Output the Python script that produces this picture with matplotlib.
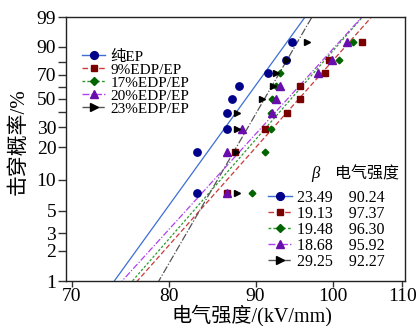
import numpy as np
import matplotlib
matplotlib.use("Agg")
import matplotlib.pyplot as plt
from matplotlib.lines import Line2D

plt.rcParams['font.family'] = ['Liberation Serif', 'Noto Sans CJK SC']
plt.rcParams['mathtext.fontset'] = 'stix'

# ---------------- data ----------------
series_names = ["纯EP", "9%EDP/EP", "17%EDP/EP", "20%EDP/EP", "23%EDP/EP"]
e_pure = [83.1, 83.1, 86.6, 86.6, 87.1, 88.0, 91.5, 93.8, 94.6]
e_9 = [86.5, 87.5, 91.2, 94.0, 95.6, 95.6, 99.0, 99.5, 104.1]
e_17 = [89.6, 91.2, 91.9, 91.9, 92.0, 92.5, 93.0, 100.9, 102.8]
e_20 = [86.6, 86.6, 88.3, 92.1, 92.6, 93.0, 98.0, 99.9, 102.0]
e_23 = [87.7, 87.6, 87.7, 87.7, 90.8, 92.2, 92.6, 93.9, 96.6]
beta = [23.49, 19.13, 19.48, 18.68, 29.25]
alpha = [90.24, 97.37, 96.30, 95.92, 92.27]
x_ticks = [70, 80, 90, 100, 110]
y_ticks = [1, 2, 3, 5, 10, 20, 30, 40, 50, 60, 70, 80, 90, 99]
y_tick_labels = ["1", "2", "3", "5", "10", "20", "30", "", "50", "", "70", "", "90", "99"]

n = len(e_pure)
rank_pct = [100.0 * (i - 0.3) / (n + 0.4) for i in range(1, n + 1)]

marker_colors = ["#00008b", "#7a0000", "#006400", "#6a0dad", "#000000"]
line_colors = ["#3b6fd6", "#cc3a3a", "#2a9a2a", "#b040f0", "#555555"]
markers = ["o", "s", "D", "^", ">"]
msizes = [5.3, 4.5, 3.4, 5.3, 4.8]
lstyles = ["-", (0, (4, 2)), (0, (2, 1.5)), (0, (5, 1.5, 1, 1.5)), (0, (6, 1.5, 1, 1.5))]
all_e = [e_pure, e_9, e_17, e_20, e_23]


def fwd(p):
    p = np.clip(np.asarray(p, dtype=float), 1e-9, 100 - 1e-9)
    return np.log(-np.log(1 - p / 100.0))


def inv(y):
    return 100.0 * (1 - np.exp(-np.exp(y)))


fig = plt.figure(figsize=(4.19, 3.26), dpi=100)
ax = fig.add_axes([66 / 419, 1 - 281 / 326, 339 / 419, 264 / 326])
ax.set_xscale('log')
ax.set_yscale('function', functions=(fwd, inv))

handles = []
for i in range(5):
    F = np.array([0.3, 99.95])
    E = alpha[i] * (-np.log(1 - F / 100.0)) ** (1.0 / beta[i])
    ax.plot(E, F, color=line_colors[i], lw=0.9, linestyle=lstyles[i], zorder=2)
    ax.plot(all_e[i], rank_pct, linestyle='none', marker=markers[i],
            color=marker_colors[i], ms=msizes[i], zorder=3)
    handles.append(Line2D([], [], color=line_colors[i], lw=1.0, linestyle=lstyles[i],
                          marker=markers[i], ms=msizes[i] + 0.3,
                          markerfacecolor=marker_colors[i], markeredgecolor=marker_colors[i]))

ax.set_xlim(69.45, 110.4)
ax.set_ylim(1, 99)
ax.set_xticks(x_ticks)
ax.set_xticklabels([str(v) for v in x_ticks])
ax.xaxis.set_minor_locator(matplotlib.ticker.NullLocator())
ax.set_yticks(y_ticks)
ax.set_yticklabels(y_tick_labels)
ax.yaxis.set_minor_locator(matplotlib.ticker.NullLocator())
ax.tick_params(axis='both', labelsize=14, direction='out', width=1.0, color='#333333')
ax.tick_params(axis='x', length=4, pad=1)
ax.tick_params(axis='y', length=6, pad=1)
for s in ax.spines.values():
    s.set_linewidth(1.0)
    s.set_color('#222222')

leg1 = ax.legend(handles, series_names, loc='upper left', bbox_to_anchor=(0.03, 0.899),
                 frameon=False, fontsize=11, handlelength=1.5, handletextpad=0.35,
                 labelspacing=-0.05, borderaxespad=0, borderpad=0.4)
ax.add_artist(leg1)

labels2 = [f"{b:.2f}    {a:.2f}" for b, a in zip(beta, alpha)]
leg2 = ax.legend(handles, labels2, loc='upper left', bbox_to_anchor=(0.577, 0.37),
                 frameon=False, fontsize=11.5, handlelength=1.5, handletextpad=0.3,
                 labelspacing=0.0, borderaxespad=0, borderpad=0.4)

ax.text((315 - 66) / 339, 0.405, "β", transform=ax.transAxes, fontsize=12,
        fontstyle='italic', ha='center', va='center')
ax.text((335 - 66) / 339, 0.405, "电气强度", transform=ax.transAxes, fontsize=11.5,
        ha='left', va='center')

fig.text(252 / 419, 1 - 316 / 326, "电气强度/(kV/mm)", fontsize=14.5, ha='center', va='center')
fig.text(19 / 419, 1 - 142 / 326, "击穿概率/%", fontsize=15, ha='center', va='center',
         rotation=90)

fig.savefig("out.png", dpi=100)
